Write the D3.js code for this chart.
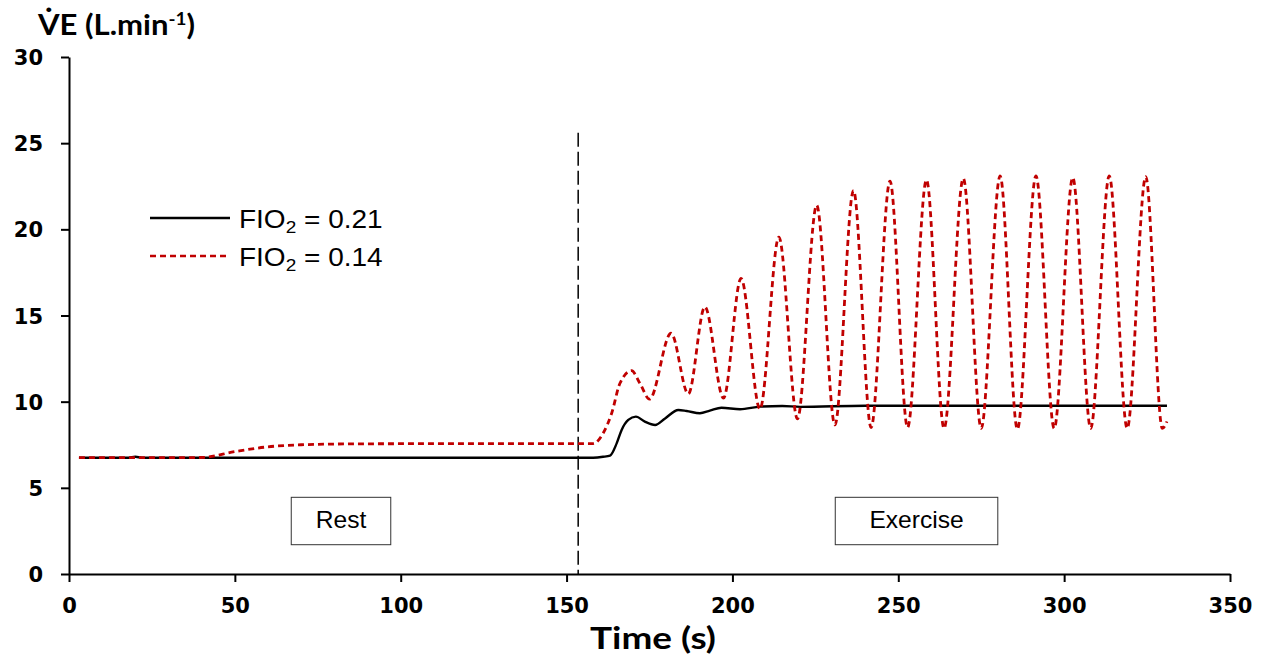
<!DOCTYPE html>
<html>
<head>
<meta charset="utf-8">
<script src="https://cdn.jsdelivr.net/npm/d3@7/dist/d3.min.js"></script>
<style>
  html, body { margin: 0; padding: 0; background: #fff; }
  svg { display: block; }
</style>
</head>
<body>
<svg id="chart" width="1264" height="658"></svg>
<script>
// Ventilation (L/min) over time (s) under two inspired O2 fractions
const normoxia = [ // FIO2 = 0.21
  [3, 6.75], [18, 6.75], [20, 6.8], [22, 6.75], [158, 6.75], [161, 6.8], [163.1, 6.87],
  [165.1, 7.58], [166.6, 8.36], [168.6, 8.94], [170.9, 9.13], [173.6, 8.84], [176.7, 8.65],
  [179.7, 9.03], [183.7, 9.52], [186.2, 9.46], [190.2, 9.33], [193.2, 9.48], [196.7, 9.65],
  [202.3, 9.56], [208.3, 9.71], [215, 9.75], [220.4, 9.7], [240, 9.76], [331, 9.76]
];
const hypoxia = [ // FIO2 = 0.14
  [3, 6.75], [20, 6.75], [40, 6.76], [50, 7.1], [60, 7.38], [70, 7.5], [85, 7.55], [100, 7.56],
  [158, 7.57], [161, 8.16], [163.6, 9.33], [166.1, 11.07], [169.6, 11.8], [172.1, 11.07],
  [175, 10.15], [181.5, 13.97], [186.7, 10.45], [191.7, 15.5], [197.3, 10.2], [202.6, 17.15],
  [208.3, 9.57], [214, 19.55], [219.6, 9.0], [225.4, 21.4], [230.9, 8.65], [236.5, 22.25],
  [241.8, 8.5], [247.5, 22.8], [252.8, 8.5], [258.5, 22.87], [263.8, 8.45], [269.6, 22.96],
  [275, 8.45], [280.7, 23.1], [285.9, 8.4], [291.5, 23.1], [297, 8.45], [302.6, 23.0],
  [308, 8.45], [313.6, 23.1], [319, 8.45], [324.6, 23.05], [329.6, 8.45], [331, 8.85]
];
const xTicks = [0, 50, 100, 150, 200, 250, 300, 350];
const yTicks = [0, 5, 10, 15, 20, 25, 30];
const exerciseOnset = 153.5;   // s
const onsetLineTop = 25.6;     // L/min
const phases = [
  { label: "Rest",     x0: 67,  x1: 97,  y0: 1.7, y1: 4.45 },
  { label: "Exercise", x0: 231, x1: 280, y0: 1.7, y1: 4.45 }
];
const legendItems = [
  { value: "0.21", color: "#000", dash: null },
  { value: "0.14", color: "#c00000", dash: "6,4" }
];

const svg = d3.select("#chart");
const x = d3.scaleLinear().domain([0, 350]).range([69, 1230]);
const y = d3.scaleLinear().domain([0, 30]).range([574, 57]);

const SANS = "'Liberation Sans', Arial, sans-serif";
const TITLE = "Lato, 'Open Sans', sans-serif";

// Text anchored at (px, py) and widened horizontally by sx
function wideText(px, py, sx, anchor) {
  return svg.append("text")
    .attr("transform", `translate(${px},${py}) scale(${sx},1)`)
    .attr("text-anchor", anchor || "start");
}

// Axes
const xAxis = svg.append("g").attr("transform", `translate(0,${y(0)})`)
  .call(d3.axisBottom(x).tickValues(xTicks).tickSize(8).tickSizeOuter(0).tickPadding(16));
const yAxis = svg.append("g").attr("transform", `translate(${x(0)},0)`)
  .call(d3.axisLeft(y).tickValues(yTicks).tickSize(8).tickSizeOuter(0).tickPadding(18));
[xAxis, yAxis].forEach(g => {
  g.select(".domain").attr("stroke", "#000").attr("stroke-width", 2);
  g.selectAll(".tick line").attr("stroke", "#000").attr("stroke-width", 2);
  g.selectAll(".tick text")
    .attr("fill", "#000")
    .style("font-family", "'DejaVu Sans', sans-serif")
    .style("font-weight", "bold")
    .style("font-size", "21px");
});
yAxis.selectAll(".tick text").attr("dy", "0.36em");

// Phase boxes
phases.forEach(p => {
  svg.append("rect")
    .attr("x", x(p.x0)).attr("y", y(p.y1))
    .attr("width", x(p.x1) - x(p.x0)).attr("height", y(p.y0) - y(p.y1))
    .attr("fill", "#fff").attr("stroke", "#333").attr("stroke-width", 1);
  wideText((x(p.x0) + x(p.x1)) / 2, (y(p.y0) + y(p.y1)) / 2 + 7, 1.07, "middle")
    .style("font-family", SANS)
    .style("font-size", "23px")
    .text(p.label);
});

// Exercise onset marker
svg.append("line")
  .attr("x1", x(exerciseOnset)).attr("x2", x(exerciseOnset))
  .attr("y1", y(onsetLineTop)).attr("y2", y(0))
  .attr("stroke", "#000").attr("stroke-width", 1.5).attr("stroke-dasharray", "14,5");

// Series
const line = d3.line().x(d => x(d[0])).y(d => y(d[1])).curve(d3.curveMonotoneX);
svg.append("path").datum(normoxia).attr("d", line)
  .attr("fill", "none").attr("stroke", "#000").attr("stroke-width", 2.4);
svg.append("path").datum(hypoxia).attr("d", line)
  .attr("fill", "none").attr("stroke", "#c00000").attr("stroke-width", 2.8)
  .attr("stroke-dasharray", "6,4");

// Legend
legendItems.forEach((item, i) => {
  const ly = 218 + i * 38;
  svg.append("line").attr("x1", 150).attr("x2", 230).attr("y1", ly).attr("y2", ly)
    .attr("stroke", item.color).attr("stroke-width", 2.4)
    .attr("stroke-dasharray", item.dash);
  const t = wideText(239, ly + 10, 1.12)
    .style("font-family", SANS)
    .style("font-size", "25px");
  t.append("tspan").text("FIO");
  t.append("tspan").attr("dy", 5).style("font-size", "17px").text("2");
  t.append("tspan").attr("dy", -5).text(" = " + item.value);
});

// Axis titles
const yt = wideText(38, 35, 1.11)
  .style("font-family", TITLE)
  .style("font-weight", "bold").style("font-size", "28px");
yt.append("tspan").text("V\u0307E (L.min");
yt.append("tspan").attr("dy", -10).style("font-size", "17px").text("-1");
yt.append("tspan").attr("dy", 10).text(")");

wideText(653, 649, 1.23, "middle")
  .style("font-family", TITLE)
  .style("font-weight", "bold").style("font-size", "30px")
  .text("Time (s)");
</script>
</body>
</html>
